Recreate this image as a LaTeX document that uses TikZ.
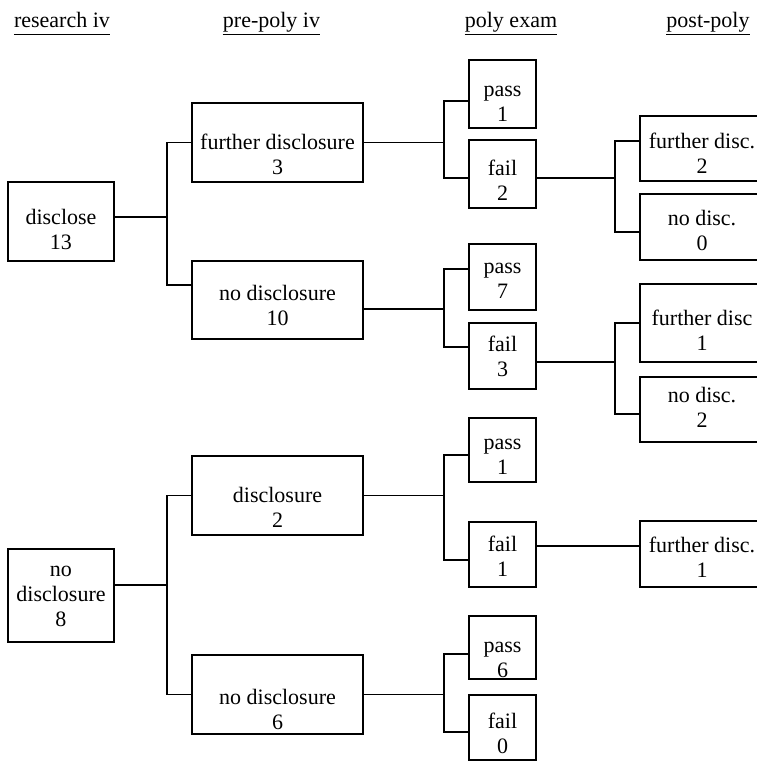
\documentclass[tikz,border=0pt]{standalone}
\usepackage{fontspec}
\setmainfont{Liberation Serif}
\newfontfamily\tnr{Liberation Serif}
\tikzset{
 box/.style={draw,line width=1.8pt,inner sep=0pt},
 boxtext/.style={align=center,inner sep=0pt,font=\tnr\fontsize{22}{25}\selectfont},
 head/.style={anchor=base,inner sep=0pt,text depth=7pt,font=\tnr\fontsize{22}{25}\selectfont},
 conn/.style={line width=1.9pt},
 thinconn/.style={line width=1.4pt},
}
\newcommand{\outcome}[6]{%
 \node[box,minimum width=#3,minimum height=#4] ({#1}) at ({#2}) {};%
 \node[boxtext] ({#1-txt}) at ([yshift=-#6pt]#1.center) {#5};%
}

\begin{document}
\begin{tikzpicture}[x=1pt,y=-1pt]
   \useasboundingbox (0,0) rectangle (757,763);
   \clip (0,0) rectangle (757,763);
   % column heads
   \node[head] (hres)  at ( 62,27) {research iv};
   \node[head] (hpre)  at (271.5,27) {pre-poly iv};
   \node[head] (hexam) at (511,27) {poly exam};
   \node[head] (hpost) at (708,27) {post-poly};
   \foreach \h in {hres,hpre,hexam,hpost}
     \draw[line width=1.4pt] (\h.south west) -- (\h.south east);
   % research iv
   \outcome{dis13}{61,221.5}{106pt}{79pt}{disclose\\13}{8}
   \outcome{nodis8}{61,595.5}{106pt}{93pt}{no\\disclosure\\8}{1}
   % pre-poly iv
   \outcome{fd3}{277.5,142.5}{171pt}{79pt}{further disclosure\\3}{12}
   \outcome{nd10}{277.5,300}{171pt}{78pt}{no disclosure\\10}{5}
   \outcome{d2}{277.5,495.5}{171pt}{79pt}{disclosure\\2}{12}
   \outcome{nd6}{277.5,694.5}{171pt}{79pt}{no disclosure\\6}{15}
   % poly exam
   \outcome{p1a}{502.5,94}{67pt}{68pt}{pass\\1}{10}
   \outcome{f2}{502.5,174}{67pt}{68pt}{fail\\2}{6}
   \outcome{p7}{502.5,277}{67pt}{66pt}{pass\\7}{4}
   \outcome{f3}{502.5,356}{67pt}{66pt}{fail\\3}{0}
   \outcome{p1b}{502.5,450}{67pt}{64pt}{pass\\1}{7}
   \outcome{f1}{502.5,554.5}{67pt}{65pt}{fail\\1}{2}
   \outcome{p6}{502.5,647.5}{67pt}{63pt}{pass\\6}{12}
   \outcome{f0}{502.5,727.5}{67pt}{65pt}{fail\\0}{6}
   % post-poly
   \outcome{fdc2}{702,148.5}{124pt}{65pt}{further disc.\\2}{5}
   \outcome{ndc0}{702,227}{124pt}{66pt}{no disc.\\0}{3}
   \outcome{fdc1}{702,323}{124pt}{78pt}{further disc\\1}{7}
   \outcome{ndc2}{702,409.5}{124pt}{65pt}{no disc.\\2}{-2}
   \outcome{fdc1b}{702,554}{124pt}{66pt}{further disc.\\1}{3}
   % disclose branch
   \draw[conn] ([yshift=-36pt]dis13.north east) -- ++(52,0) coordinate (j1);
   \draw[conn] (fd3.west) -| (j1) |- ([yshift=-25pt]nd10.north west);
   \draw[conn] (fd3.east) -- ++(80,0) coordinate (j2);
   \draw[conn] ([yshift=-42pt]p1a.north west) -| (j2) |- ([yshift=-39pt]f2.north west);
   \draw[conn] ([yshift=-49pt]nd10.north east) -- ++(80,0) coordinate (j3);
   \draw[conn] ([yshift=-26pt]p7.north west) -| (j3) |- ([yshift=-25pt]f3.north west);
   \draw[conn] ([yshift=-39pt]f2.north east) -- ++(78,0) coordinate (j4);
   \draw[conn] ([yshift=-26pt]fdc2.north west) -| (j4) |- ([yshift=-39pt]ndc0.north west);
   \draw[conn] ([yshift=-40pt]f3.north east) -- ++(78,0) coordinate (j5);
   \draw[conn] (fdc1.west) -| (j5) |- ([yshift=-38pt]ndc2.north west);
   % no disclosure branch
   \draw[thinconn] ([yshift=-37pt]nodis8.north east) -- ++(52,0) coordinate (j6);
   \draw[thinconn] (d2.west) -| (j6) |- (nd6.west);
   \draw[thinconn] (d2.east) -- ++(80,0) coordinate (j7);
   \draw[thinconn] ([yshift=-38pt]p1b.north west) -| (j7) |- ([yshift=-39pt]f1.north west);
   \draw[thinconn] ([yshift=-25pt]f1.north east) coordinate (f1o) -- (f1o -| fdc1b.west);
   \draw[thinconn] (nd6.east) -- ++(80,0) coordinate (j8);
   \draw[thinconn] ([yshift=-39pt]p6.north west) -| (j8) |- ([yshift=-38pt]f0.north west);
\end{tikzpicture}
\end{document}
